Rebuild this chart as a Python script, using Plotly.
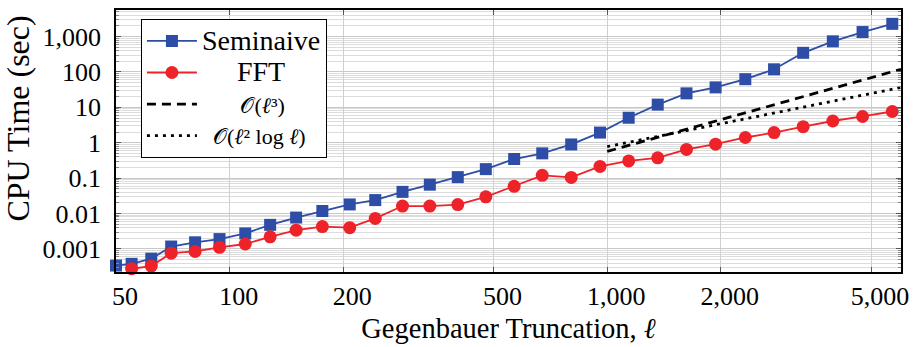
import plotly.graph_objects as go

# Gegenbauer truncation values
ell = [50, 55, 62, 70, 81, 94, 110, 128, 150, 176, 208, 243, 287, 339, 402, 477,
       567, 673, 803, 957, 1140, 1361, 1622, 1937, 2322, 2767, 3304, 3960, 4747, 5690]

seminaive = [3.4e-4, 3.8e-4, 5.3e-4, 1.17e-3, 1.54e-3, 1.9e-3, 2.75e-3, 4.8e-3, 7.7e-3,
             0.0118, 0.0181, 0.024, 0.041, 0.0655, 0.107, 0.18, 0.348, 0.502, 0.897,
             1.94, 5.09, 11.97, 24.9, 36.7, 62.5, 119, 348, 735, 1343, 2291]

ell_fft = ell[1:]
fft = [2.76e-4, 3.29e-4, 7.6e-4, 8.5e-4, 1.11e-3, 1.38e-3, 2.2e-3, 3.4e-3, 4.3e-3,
       4.0e-3, 7.3e-3, 0.0163, 0.0163, 0.018, 0.0297, 0.059, 0.12, 0.105, 0.214,
       0.306, 0.376, 0.65, 0.914, 1.41, 1.94, 2.85, 4.12, 5.53, 7.64]

ell_cubic = [1000, 6000]
cubic = [0.57, 119]

ell_l2log = [1000, 2000, 3000, 4000, 6000]
l2log = [0.78, 3.45, 8.1, 15, 36.5]

xtick_vals = [50, 100, 200, 500, 1000, 2000, 5000]
xtick_text = ["50", "100", "200", "500", "1,000", "2,000", "5,000"]
ytick_vals = [0.001, 0.01, 0.1, 1, 10, 100, 1000]
ytick_text = ["0.001", "0.01", "0.1", "1", "10", "100", "1,000"]

BLUE = "#2E4DA6"
RED = "#EE2229"
FONT = "Liberation Serif"
NB = "\u00a0"


def sized(t, px):
    return '<span style="font-size:%dpx">' % px + t + '</span>'


fig = go.Figure()
fig.add_trace(go.Scatter(x=ell, y=seminaive, mode="lines+markers", name=sized("Seminaive", 28),
                         line=dict(color=BLUE, width=1.8),
                         marker=dict(symbol="square", size=12, color=BLUE),
                         cliponaxis=False))
fig.add_trace(go.Scatter(x=ell_fft, y=fft, mode="lines+markers",
                         name=sized(NB * 5 + "FFT", 28),
                         line=dict(color=RED, width=1.8),
                         marker=dict(symbol="circle", size=13, color=RED),
                         cliponaxis=False))
fig.add_trace(go.Scatter(x=ell_cubic, y=cubic, mode="lines",
                         name=sized(NB * 7 + "𝒪(<i>ℓ</i>³)", 22),
                         line=dict(color="black", width=2.8, dash="9px,6px")))
fig.add_trace(go.Scatter(x=ell_l2log, y=l2log, mode="lines",
                         name=sized(NB * 2 + "𝒪(<i>ℓ</i>² log <i>ℓ</i>)", 22),
                         line=dict(color="black", width=2.8, dash="3px,5px")))

fig.update_layout(
    width=917, height=347,
    margin=dict(l=116, r=8, t=10, b=72),
    paper_bgcolor="white", plot_bgcolor="white",
    font=dict(family=FONT, size=22, color="black"),
    showlegend=True,
    legend=dict(x=0.0315, y=0.966, xanchor="left", yanchor="top",
                bgcolor="white", bordercolor="black", borderwidth=1.2,
                font=dict(family=FONT, size=22), tracegroupgap=0,
                itemwidth=50),
    annotations=[dict(text="CPU Time (sec)", textangle=-90, xref="paper", yref="paper",
                      x=-0.125, y=0.585, xanchor="center", yanchor="middle",
                      showarrow=False, font=dict(family=FONT, size=32))],
)
fig.update_xaxes(
    type="log", range=[1.69897, 3.7782],
    tickvals=xtick_vals, ticktext=xtick_text,
    ticks="inside", ticklen=5, tickcolor="#555", mirror="ticks",
    showline=True, linecolor="black", linewidth=1.5,
    showgrid=True, gridcolor="#d0d0d0", gridwidth=1.2,
    ticklabelshift=9,
    tickfont=dict(family=FONT, size=26),
    title=dict(text="Gegenbauer Truncation, <i>ℓ</i>", font=dict(family=FONT, size=28.5), standoff=8),
    zeroline=False,
)
fig.update_yaxes(
    type="log", range=[-3.651, 3.751],
    tickvals=ytick_vals, ticktext=ytick_text,
    ticks="inside", ticklen=5, tickcolor="#555", mirror="ticks",
    showline=True, linecolor="black", linewidth=1.5,
    showgrid=True, gridcolor="#c8c8c8", gridwidth=1.2,
    minor=dict(ticks="inside", ticklen=3, tickcolor="#888", showgrid=True,
               gridcolor="#dcdcdc", gridwidth=1, dtick="D1"),
    ticklabelstandoff=8,
    tickfont=dict(family=FONT, size=26),
    zeroline=False,
)

fig.write_html("out.html")
